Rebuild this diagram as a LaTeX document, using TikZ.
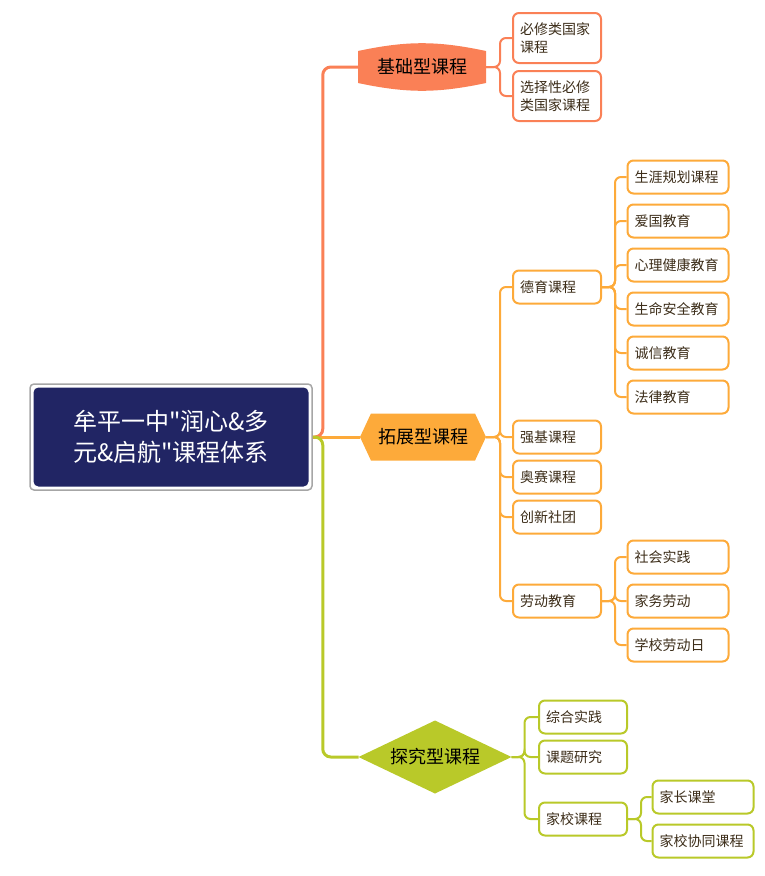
\documentclass[tikz,border=0pt]{standalone}
\usepackage{fontspec}
\setmainfont{Noto Sans CJK SC}
\newfontfamily\plaincjk{Noto Sans CJK SC}
\usepackage{tikz}
\usetikzlibrary{positioning,shapes,shapes.geometric,shapes.symbols}
\definecolor{coralc}{RGB}{250,128,86}
\definecolor{orangec}{RGB}{253,170,58}
\definecolor{greenc}{RGB}{185,201,41}
\definecolor{navyc}{RGB}{33,37,100}
\definecolor{textc}{RGB}{60,45,25}
\tikzset{
	rootbox/.style={
		rectangle, rounded corners=5pt, fill=navyc, text=white,
		minimum width=275pt, minimum height=99pt, align=center,
		font=\plaincjk\fontsize{24}{31}\selectfont
	},
	rootframe/.style={
		rectangle, rounded corners=4pt, draw=black!35, line width=1.5pt,
		minimum width=282pt, minimum height=106pt
	},
	topic/.style={
		inner sep=0pt, outer sep=0pt, text=black,
		font=\fontsize{18}{22}\selectfont
	},
	leaf/.style={
		rectangle, draw=#1, line width=2pt, rounded corners=6pt, fill=white,
		minimum height=33pt, text width=74pt, align=left, inner xsep=7pt,
		text=textc, font=\fontsize{14}{18}\selectfont
	},
	wleaf/.style={leaf=#1, text width=87pt},
	link/.style={draw=#1, line width=2pt, rounded corners=6pt},
	trunk/.style={draw=#1, line width=3pt, rounded corners=8pt}
}
\begin{document}
\begin{tikzpicture}[x=1pt, y=-1pt]
	\useasboundingbox (0,0) rectangle (764,876);
	\node[rootframe] (rootf) at (171,437) {};
	\node[rootbox] (root) at (171,437) {牟平一中"润心\&多\\元\&启航"课程体系};

	\node[topic, minimum width=128pt, minimum height=32pt] (basic) at (422,67) {};
	\node[topic, signal, signal to=east and west, signal pointer angle=130,
		fill=orangec, minimum width=126pt, minimum height=47pt] (expand) at (423,437) {拓展型课程};
	\node[topic, diamond, aspect=2, fill=greenc,
		minimum width=153pt, minimum height=73pt] (inquiry) at (435,757) {探究型课程};

	\draw[trunk=orangec] (rootf.east) -- (expand.west);
	\draw[trunk=coralc] (rootf.east) -- ++(10pt,0) |- (basic.west);
	\draw[trunk=greenc] (rootf.east) -- ++(10pt,0) |- (inquiry.west);

	\fill[coralc] (basic.north west) to[bend left=12] (basic.north east) -- (basic.south east)
		to[bend left=12] (basic.south west) -- cycle;
	\node[topic] (basict) at (basic) {基础型课程};

	\node[leaf=coralc, minimum height=50pt] (b1) at (557,38) {必修类国家\\课程};
	\node[leaf=coralc, minimum height=50pt] (b2) at (557,96) {选择性必修\\类国家课程};
	\draw[link=coralc] (basic.east) -- ++(14pt,0) |- (b1.west);
	\draw[link=coralc] (basic.east) -- ++(14pt,0) |- (b2.west);

	\node[leaf=orangec] (e1) at (557,287) {德育课程};
	\node[leaf=orangec] (e2) at (557,437) {强基课程};
	\node[leaf=orangec] (e3) at (557,477) {奥赛课程};
	\node[leaf=orangec] (e4) at (557,517) {创新社团};
	\node[leaf=orangec] (e5) at (557,601) {劳动教育};
	\draw[link=orangec] (expand.east) -- ++(14pt,0) |- (e1.west);
	\draw[link=orangec] (expand.east) -- ++(14pt,0) |- (e2.west);
	\draw[link=orangec] (expand.east) -- ++(14pt,0) |- (e3.west);
	\draw[link=orangec] (expand.east) -- ++(14pt,0) |- (e4.west);
	\draw[link=orangec] (expand.east) -- ++(14pt,0) |- (e5.west);

	\node[wleaf=orangec] (d1) at (678,177) {生涯规划课程};
	\node[wleaf=orangec] (d2) at (678,221) {爱国教育};
	\node[wleaf=orangec] (d3) at (678,265) {心理健康教育};
	\node[wleaf=orangec] (d4) at (678,309) {生命安全教育};
	\node[wleaf=orangec] (d5) at (678,353) {诚信教育};
	\node[wleaf=orangec] (d6) at (678,397) {法律教育};
	\draw[link=orangec] (e1.east) -- ++(13pt,0) |- (d1.west);
	\draw[link=orangec] (e1.east) -- ++(13pt,0) |- (d2.west);
	\draw[link=orangec] (e1.east) -- ++(13pt,0) |- (d3.west);
	\draw[link=orangec] (e1.east) -- ++(13pt,0) |- (d4.west);
	\draw[link=orangec] (e1.east) -- ++(13pt,0) |- (d5.west);
	\draw[link=orangec] (e1.east) -- ++(13pt,0) |- (d6.west);

	\node[wleaf=orangec] (l1) at (678,557) {社会实践};
	\node[wleaf=orangec] (l2) at (678,601) {家务劳动};
	\node[wleaf=orangec] (l3) at (678,645) {学校劳动日};
	\draw[link=orangec] (e5.east) -- ++(13pt,0) |- (l1.west);
	\draw[link=orangec] (e5.east) -- ++(13pt,0) |- (l2.west);
	\draw[link=orangec] (e5.east) -- ++(13pt,0) |- (l3.west);

	\node[leaf=greenc] (i1) at (583,717) {综合实践};
	\node[leaf=greenc] (i2) at (583,757) {课题研究};
	\node[leaf=greenc] (i3) at (583,819) {家校课程};
	\draw[link=greenc] (inquiry.east) -- ++(13pt,0) |- (i1.west);
	\draw[link=greenc] (inquiry.east) -- ++(13pt,0) |- (i2.west);
	\draw[link=greenc] (inquiry.east) -- ++(13pt,0) |- (i3.west);

	\node[wleaf=greenc] (h1) at (703,797) {家长课堂};
	\node[wleaf=greenc] (h2) at (703,841) {家校协同课程};
	\draw[link=greenc] (i3.east) -- ++(13pt,0) |- (h1.west);
	\draw[link=greenc] (i3.east) -- ++(13pt,0) |- (h2.west);
\end{tikzpicture}
\end{document}
